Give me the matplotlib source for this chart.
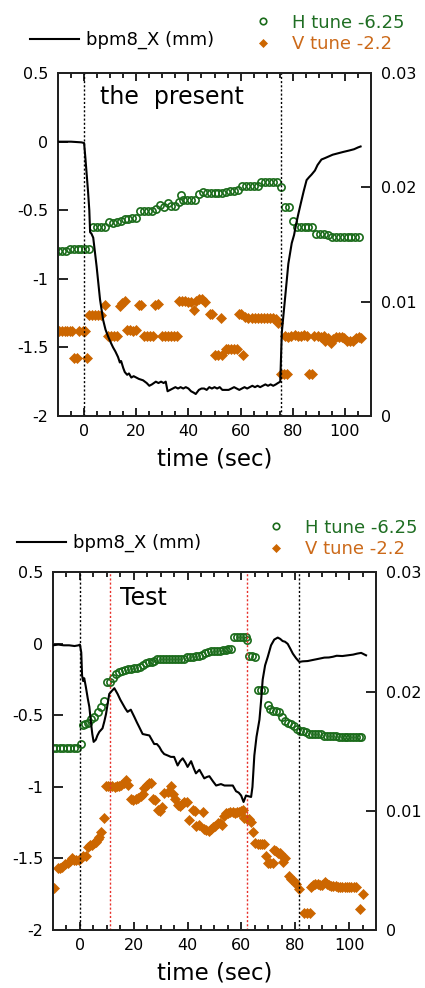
import matplotlib
matplotlib.use("Agg")
import matplotlib.pyplot as plt
from matplotlib.ticker import MultipleLocator

GREEN = "#1a6b1a"
ORANGE = "#cc6600"

# ---------------- top panel ("the present") ----------------
bpm_top_t = [-10, -5, -1, 0, 0.5, 1, 1.5, 2, 2.3, 2.8, 3.5, 4.8, 6.1, 7.3, 8.2, 9.2, 10.1, 11.1, 12, 13,
             13.7, 14.2, 15, 15.6, 16.5, 17.2, 18.1, 19, 20, 21, 22.6, 24, 25, 26, 27.5, 28.5, 29.5, 30.5,
             31.3, 32, 33, 34, 35, 36, 37, 38, 39, 40, 41, 42, 42.8, 44, 45, 46, 47, 48, 49, 50, 51, 52,
             53, 54, 55.4, 56.5, 57.5, 58.5, 59.5, 60.5, 61.5, 62.5, 63.5, 64.5, 65.5, 66.5, 67.5, 68.5,
             69.5, 70.5, 71.5, 72.5, 73.5, 74.3, 75.2, 75.8, 77.1, 78.3, 79.6, 80.5, 81.3, 82.1, 83.2,
             84.2, 85.3, 86.2, 87.2, 88.5, 89.5, 91, 92.3, 93.5, 95.3, 97.3, 99.3, 101.5, 103.5, 105, 106]
bpm_top = [0.0, 0.0, -0.005, -0.01, -0.12, -0.24, -0.36, -0.5, -0.66, -0.67, -0.70, -0.91, -1.15, -1.30,
           -1.37, -1.42, -1.46, -1.50, -1.53, -1.57, -1.61, -1.60, -1.65, -1.68, -1.70, -1.69, -1.72, -1.71,
           -1.72, -1.73, -1.74, -1.76, -1.78, -1.77, -1.75, -1.76, -1.75, -1.76, -1.75, -1.82, -1.81, -1.80,
           -1.79, -1.80, -1.79, -1.80, -1.79, -1.80, -1.82, -1.83, -1.84, -1.81, -1.80, -1.80, -1.81, -1.79,
           -1.80, -1.79, -1.80, -1.79, -1.81, -1.81, -1.81, -1.80, -1.79, -1.80, -1.81, -1.80, -1.79, -1.80,
           -1.79, -1.78, -1.79, -1.78, -1.79, -1.78, -1.77, -1.78, -1.77, -1.78, -1.77, -1.76, -1.75, -1.39,
           -1.13, -0.89, -0.74, -0.68, -0.60, -0.53, -0.44, -0.36, -0.28, -0.26, -0.24, -0.21, -0.17, -0.13,
           -0.12, -0.11, -0.095, -0.085, -0.075, -0.065, -0.055, -0.042, -0.035]

htune_top_t = [-10, -8.5, -7, -5.5, -4, -2.5, -1, 0.5, 2, 3.5, 5, 6.5, 8, 9.5, 11, 12.5, 14, 15.5, 17,
               18.5, 20, 21.5, 23, 24.5, 26, 27.5, 29, 30.5, 32, 33.5, 35, 36.5, 37, 38, 39.5, 41, 42.5,
               44, 45.5, 47, 48.5, 50, 51.5, 53, 54.5, 56, 57.5, 59, 60.5, 62, 63.5, 65, 66.5, 68, 69.5,
               71, 72.5, 74, 75.5, 77, 78.5, 80, 81.5, 83, 84.5, 86, 87.5, 89, 90.5, 92, 93.5, 95, 96.5,
               98, 99.5, 101, 102.5, 104, 105.5]
htune_top = [0.0144, 0.0144, 0.0144, 0.0146, 0.0146, 0.0146, 0.0146, 0.0146, 0.0146, 0.0165, 0.0165,
             0.0165, 0.0165, 0.0170, 0.0169, 0.0170, 0.0171, 0.0172, 0.0172, 0.0173, 0.0173, 0.0179,
             0.0179, 0.0179, 0.0179, 0.0181, 0.0185, 0.0183, 0.0186, 0.0184, 0.0184, 0.0187, 0.0193,
             0.0189, 0.0189, 0.0189, 0.0189, 0.0194, 0.0196, 0.0195, 0.0195, 0.0195, 0.0195, 0.0195,
             0.0196, 0.0197, 0.0197, 0.0198, 0.0201, 0.0201, 0.0201, 0.0201, 0.0201, 0.0205, 0.0205,
             0.0205, 0.0205, 0.0205, 0.0200, 0.0183, 0.0183, 0.0171, 0.0165, 0.0165, 0.0165, 0.0165,
             0.0165, 0.0159, 0.0159, 0.0159, 0.0158, 0.0157, 0.0157, 0.0157, 0.0157, 0.0157, 0.0157,
             0.0157, 0.0157]

vtune_top_t = [-9.5, -8.5, -7.5, -6.5, -5.5, -4.5, -3.8, -2.6, -1.8, -0.6, 0.4, 1.0, 1.8, 3.0, 4.2, 5.4,
               6.6, 8.0, 9.2, 10.4, 11.6, 12.8, 13.6, 14.6, 15.6, 16.4, 17.6, 18.8, 20.0, 21.0, 22.0,
               22.8, 24.0, 25.2, 26.4, 27.3, 28.3, 29.8, 31.0, 32.2, 33.4, 34.6, 35.6, 36.4, 37.6, 38.8,
               40.0, 41.0, 42.0, 42.8, 44.0, 45.2, 46.4, 48.3, 49.0, 50.0, 51.5, 52.3, 53.0, 54.3, 55.3,
               56.3, 57.5, 58.5, 59.5, 60.3, 61.0, 61.8, 63.0, 64.2, 65.4, 66.6, 67.8, 69.0, 70.2, 71.4,
               72.6, 73.6, 74.4, 75.6, 76.6, 77.6, 77.0, 78.3, 79.5, 80.7, 81.9, 83.1, 84.3, 85.5, 86.3,
               87.3, 88.3, 89.5, 90.7, 91.9, 92.5, 93.5, 94.5, 95.5, 96.5, 97.6, 98.7, 99.8, 100.9,
               102.0, 103.1, 104.2, 105.3, 106.3]
vtune_top = [0.00746, 0.00746, 0.00746, 0.00746, 0.00746, 0.00746, 0.00505, 0.00505, 0.00746, 0.00746,
             0.00746, 0.00505, 0.00884, 0.00884, 0.00884, 0.00884, 0.00884, 0.00971, 0.0070, 0.0070,
             0.0070, 0.0070, 0.0096, 0.0099, 0.0101, 0.0075, 0.0075, 0.0074, 0.0075, 0.0097, 0.0097,
             0.0070, 0.0070, 0.0070, 0.0070, 0.0097, 0.0098, 0.0070, 0.0070, 0.0070, 0.0070, 0.0070,
             0.0070, 0.0101, 0.0101, 0.0101, 0.0100, 0.0100, 0.0093, 0.0101, 0.0102, 0.0102, 0.0100,
             0.0089, 0.0089, 0.0053, 0.0053, 0.00855, 0.0053, 0.0059, 0.0059, 0.0059, 0.0059, 0.0059,
             0.0089, 0.0089, 0.0053, 0.0087, 0.00855, 0.00855, 0.00855, 0.00855, 0.00855, 0.00855,
             0.00855, 0.00855, 0.00855, 0.0085, 0.0081, 0.0037, 0.0037, 0.0037, 0.0070, 0.0069, 0.0070,
             0.0071, 0.0070, 0.0070, 0.0071, 0.0070, 0.0037, 0.0037, 0.0070, 0.0070, 0.0069, 0.0070,
             0.0066, 0.0068, 0.0064, 0.0067, 0.0069, 0.0069, 0.0069, 0.0068, 0.0066, 0.0066, 0.0066,
             0.0068, 0.0069, 0.0068]

marks_top_black = [0, 75.5]

# ---------------- bottom panel ("Test") ----------------
bpm_bot_t = [-10, -8, -6, -4, -2, -0.5, 0, 0.5, 0.8, 1.2, 1.6, 2.2, 2.9, 3.5, 4.1, 4.6, 5.1, 5.9, 6.5,
             7.2, 8.4, 9.1, 9.7, 10.3, 10.9, 11.8, 12.8, 14, 15, 15.9, 16.8, 17.7, 18.9, 20.2, 21.2, 22,
             23.3, 24.5, 25.8, 26.7, 27.6, 28.6, 29.5, 30.4, 31.3, 32.6, 33.8, 35, 36.3, 37.2, 38.2, 39.2,
             40, 41.3, 42.3, 43.1, 44.4, 45.3, 46.2, 47.2, 48.1, 49.4, 50.6, 52.4, 53.7, 54.9, 56.8, 58,
             59, 59.9, 60.8, 61.7, 62.6, 63.6, 64.1, 64.8, 65.6, 66.7, 67.3, 67.9, 68.8, 69.8, 71, 72.2,
             73.5, 74.4, 75.3, 76.2, 77.2, 78.2, 79.1, 80.3, 81.5, 82.8, 84.6, 86.4, 88.5, 90.8, 92.5, 94,
             95.4, 97.5, 99.5, 101.5, 103, 104.5, 106.3]
bpm_bot = [-0.01, -0.005, -0.01, -0.01, -0.015, -0.01, -0.005, -0.06, -0.22, -0.26, -0.24, -0.30, -0.38,
           -0.44, -0.55, -0.63, -0.685, -0.67, -0.64, -0.615, -0.59, -0.54, -0.49, -0.42, -0.35, -0.33,
           -0.31, -0.35, -0.39, -0.42, -0.45, -0.475, -0.46, -0.51, -0.55, -0.58, -0.63, -0.635, -0.64,
           -0.67, -0.70, -0.70, -0.72, -0.75, -0.77, -0.78, -0.79, -0.79, -0.85, -0.82, -0.80, -0.83,
           -0.86, -0.82, -0.87, -0.905, -0.88, -0.91, -0.94, -0.93, -0.925, -0.96, -0.99, -0.98, -0.99,
           -0.99, -0.99, -1.03, -1.04, -1.06, -1.105, -1.06, -1.065, -1.07, -1.0, -0.78, -0.65, -0.53,
           -0.40, -0.25, -0.15, -0.09, -0.01, 0.03, 0.044, 0.035, 0.02, 0.015, 0.0, -0.035, -0.068, -0.10,
           -0.126, -0.122, -0.12, -0.113, -0.105, -0.096, -0.095, -0.09, -0.083, -0.085, -0.08, -0.075,
           -0.068, -0.063, -0.08]

htune_bot_t = [-10, -8.7, -7.4, -6.1, -4.8, -3.5, -2.2, -0.9, 0.4, 1.0, 1.9, 2.9, 4.1, 5.3, 6.6, 7.8,
               8.8, 10.1, 11.2, 12.3, 13.4, 14.5, 15.6, 16.7, 17.8, 18.9, 20, 21.1, 22.2, 23.3, 24.4,
               25.5, 26.6, 27.7, 28.8, 29.9, 31, 32.1, 33.2, 34.3, 35.4, 36.5, 37.6, 38.7, 39.8, 40.9,
               42, 43.1, 44.2, 45.3, 46.4, 47.5, 48.6, 49.7, 50.8, 51.9, 53, 54.1, 55.2, 56.3, 57.4,
               58.5, 59.6, 60.7, 61.6, 62.2, 63.0, 64.1, 65.2, 66.1, 67.2, 68.3, 69.8, 70.8, 71.9, 73.0,
               74.1, 75.2, 76.3, 77.4, 78.5, 79.6, 80.7, 81.8, 82.9, 84, 85.1, 86.2, 87.3, 88.4, 89.5,
               90.6, 91.7, 92.8, 93.9, 95, 96.1, 97.2, 98.3, 99.4, 100.5, 101.6, 102.7, 103.8, 104.5]
htune_bot = [0.0153, 0.0153, 0.0153, 0.0153, 0.0153, 0.0153, 0.0153, 0.0153, 0.0156, 0.0172, 0.0173,
             0.0174, 0.0177, 0.0179, 0.0183, 0.0187, 0.0192, 0.0208, 0.0208, 0.0211, 0.0215, 0.0216,
             0.0217, 0.0218, 0.0219, 0.0219, 0.0220, 0.0220, 0.0221, 0.0222, 0.0224, 0.0225, 0.0225,
             0.0226, 0.0227, 0.0227, 0.0227, 0.0227, 0.0227, 0.0227, 0.0227, 0.0227, 0.0227, 0.0227,
             0.0229, 0.0229, 0.0229, 0.0230, 0.0230, 0.0231, 0.0232, 0.0233, 0.0234, 0.0234, 0.0234,
             0.0234, 0.0235, 0.0235, 0.0236, 0.0236, 0.0246, 0.0246, 0.0246, 0.0246, 0.0246, 0.0243,
             0.0230, 0.0230, 0.0229, 0.0201, 0.0201, 0.0201, 0.0189, 0.0185, 0.0184, 0.0184, 0.0183,
             0.0179, 0.0175, 0.0174, 0.0173, 0.0171, 0.0169, 0.0167, 0.0167, 0.0166, 0.0164, 0.0164,
             0.0164, 0.0164, 0.0164, 0.0163, 0.0163, 0.0163, 0.0163, 0.0163, 0.0162, 0.0162, 0.0162,
             0.0162, 0.0162, 0.0162, 0.0162, 0.0162, 0.0162]

vtune_bot_t = [-9.5, -8.3, -7.4, -6.5, -5.6, -4.6, -3.8, -3.0, -2.2, -1.4, -0.5, 0.4, 1.3, 2.2, 2.9, 3.7,
               4.5, 5.3, 6.1, 6.6, 7.2, 7.8, 9.0, 9.7, 10.5, 11.3, 12.1, 12.9, 13.7, 14.6, 15.4, 16.2,
               17.1, 18.0, 19.0, 19.9, 20.8, 21.7, 22.6, 23.3, 23.9, 24.8, 25.6, 26.4, 27.0, 27.8, 28.9,
               29.7, 30.5, 31.4, 32.6, 33.8, 34.6, 35.3, 36.3, 37.1, 38.0, 38.8, 39.7, 40.6, 41.9, 42.6,
               43.1, 44.4, 45.6, 46.2, 47.0, 47.8, 48.7, 49.5, 50.3, 51.2, 52.0, 52.8, 53.5, 54.3, 55.1,
               55.9, 56.8, 57.6, 58.4, 59.2, 60.0, 60.6, 61.1, 61.9, 62.7, 63.6, 64.2, 65.2, 66.0, 66.8,
               67.6, 68.3, 69.2, 70.0, 70.8, 71.6, 72.2, 72.9, 73.6, 74.3, 75.1, 75.6, 76.3, 77.8, 78.6,
               79.4, 80.3, 81.5, 83.4, 84.4, 85.3, 85.9, 86.7, 87.5, 88.4, 89.2, 90.0, 90.9, 91.7, 92.5,
               93.4, 94.2, 95.0, 95.9, 96.7, 97.5, 98.4, 99.2, 100.0, 100.8, 101.7, 102.7, 104.0, 105.2]
vtune_bot = [0.0035, 0.0052, 0.0052, 0.0053, 0.0055, 0.0056, 0.0058, 0.0060, 0.0059, 0.0059, 0.0059,
             0.0060, 0.0062, 0.0062, 0.0070, 0.0071, 0.0071, 0.0073, 0.0074, 0.0076, 0.0078, 0.0082,
             0.0094, 0.0121, 0.0121, 0.0121, 0.0121, 0.0120, 0.0121, 0.0121, 0.0122, 0.0123, 0.0126,
             0.0122, 0.0110, 0.0109, 0.0110, 0.0111, 0.0112, 0.0114, 0.0119, 0.0122, 0.0123, 0.0123,
             0.0110, 0.0109, 0.0101, 0.0100, 0.0103, 0.01145, 0.0116, 0.0121, 0.0114, 0.0110, 0.0105,
             0.0104, 0.0106, 0.0107, 0.0107, 0.0092, 0.0101, 0.0100, 0.0087, 0.0088, 0.0099, 0.0085,
             0.0084, 0.0083, 0.0085, 0.0086, 0.0087, 0.0090, 0.0090, 0.0088, 0.0096, 0.0098, 0.0098,
             0.0099, 0.0099, 0.0098, 0.0099, 0.0099, 0.0100, 0.0101, 0.0094, 0.0093, 0.0093, 0.0091,
             0.0082, 0.0073, 0.0072, 0.0072, 0.0072, 0.0072, 0.0062, 0.0056, 0.0056, 0.0056, 0.0067,
             0.0066, 0.0065, 0.0065, 0.0062, 0.0057, 0.0060, 0.0045, 0.0043, 0.0041, 0.0039, 0.0034,
             0.00145, 0.00145, 0.00145, 0.0036, 0.0038, 0.0039, 0.0039, 0.0038, 0.0038, 0.0040, 0.0039,
             0.0038, 0.0037, 0.0037, 0.0037, 0.0036, 0.0036, 0.0036, 0.0036, 0.0036, 0.0036, 0.0036,
             0.0036, 0.0036, 0.0018, 0.0030]

marks_bot_black = [0, 81.5]
marks_bot_red = [11.2, 62]

xticks = [0, 20, 40, 60, 80, 100]
left_ticks = [0.5, 0, -0.5, -1, -1.5, -2]
left_labels = ["0.5", "0", "-0.5", "-1", "-1.5", "-2"]
right_ticks = [0, 0.01, 0.02, 0.03]
right_labels = ["0", "0.01", "0.02", "0.03"]


def panel(fig, rect, bt, bv, ht, hv, vt, vv, black_marks, red_marks, title, title_pos, leg1, leg2):
    ax = fig.add_axes(rect)
    ax2 = ax.twinx()
    ln, = ax.plot(bt, bv, color="black", lw=1.5, label="bpm8_X (mm)", zorder=3)
    ax.set_zorder(ax2.get_zorder() + 1)
    ax.patch.set_visible(False)
    h, = ax2.plot(ht, hv, ls="none", marker="o", ms=5.2, mfc="none", mec=GREEN, mew=1.2,
                  label="H tune -6.25")
    v, = ax2.plot(vt, vv, ls="none", marker="D", ms=4.8, mfc=ORANGE, mec=ORANGE, mew=0.5,
                  label="V tune -2.2")
    for m in black_marks:
        ax.axvline(m, color="black", ls=(0, (1.5, 1.5)), lw=1.0)
    for m in red_marks:
        ax.axvline(m, color="#e8302a", ls=(0, (1.5, 1.5)), lw=1.0)

    ax.set_xlim(-10, 110)
    ax.set_ylim(-2, 0.5)
    ax2.set_ylim(0, 0.03)
    ax.set_xticks(xticks)
    ax.xaxis.set_minor_locator(MultipleLocator(5))
    ax.set_yticks(left_ticks)
    ax.set_yticklabels(left_labels)
    ax2.set_yticks(right_ticks)
    ax2.set_yticklabels(right_labels)
    ax.tick_params(axis="x", which="both", direction="in", top=True, labelsize=11.5, pad=6)
    ax.tick_params(axis="x", which="major", length=6, width=1.2)
    ax.tick_params(axis="x", which="minor", length=3.5, width=1.2)
    ax.tick_params(axis="y", direction="in", length=7, width=1.2, labelsize=11.5, pad=7)
    ax2.tick_params(axis="y", direction="in", length=7, width=1.2, labelsize=11.5, pad=7)
    for a in (ax, ax2):
        for s in a.spines.values():
            s.set_linewidth(1.4)
            s.set_color("#222222")
    ax.set_xlabel("time (sec)", fontsize=16.5, labelpad=6)
    ax.text(title_pos[0], title_pos[1], title, transform=ax.transAxes, fontsize=17, va="center")

    l1 = ax.legend(handles=[ln], loc="center left", bbox_to_anchor=leg1, bbox_transform=fig.transFigure,
                   frameon=False, fontsize=13, handlelength=2.7, handletextpad=0.4, borderpad=0,
                   borderaxespad=0)
    fig.add_artist(l1)
    ax.legend(handles=[h, v], loc="center left", bbox_to_anchor=leg2, bbox_transform=fig.transFigure,
              frameon=False, fontsize=13, handlelength=1.0, handletextpad=1.1, borderpad=0,
              borderaxespad=0, labelspacing=0.2, labelcolor=["#1f6e23", "#cc6a1a"], markerscale=0.9)
    return ax


fig = plt.figure(figsize=(4.25, 9.88), dpi=100)
panel(fig, [0.1365, 0.579, 0.7365, 0.347], bpm_top_t, bpm_top, htune_top_t, htune_top,
      vtune_top_t, vtune_top, marks_top_black, [], "the  present", (0.134, 0.93),
      (0.0706, 0.9595), (0.5976, 0.966))
panel(fig, [0.1247, 0.0587, 0.76, 0.362], bpm_bot_t, bpm_bot, htune_bot_t, htune_bot,
      vtune_bot_t, vtune_bot, marks_bot_black, marks_bot_red, "Test", (0.207, 0.927),
      (0.04, 0.4504), (0.628, 0.455))

fig.savefig("out.png", dpi=100)
